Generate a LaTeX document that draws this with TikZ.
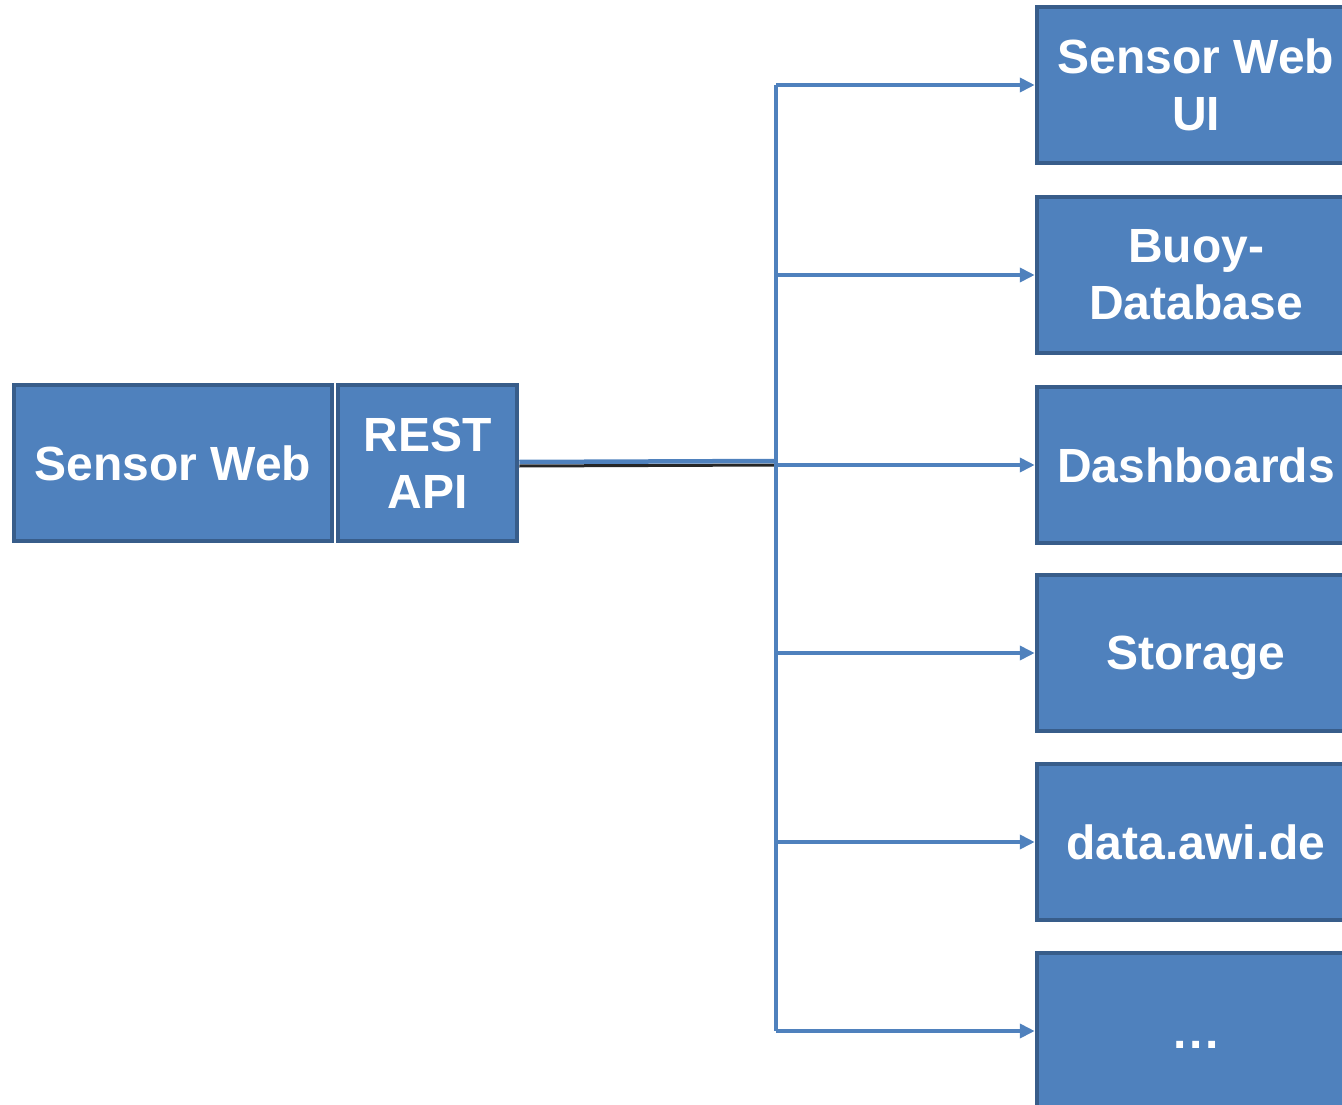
\documentclass[tikz,border=0pt]{standalone}
\usepackage{fontspec}
\setmainfont{Liberation Sans}
\usetikzlibrary{arrows.meta}
\definecolor{boxfill}{HTML}{4F81BD}
\definecolor{boxline}{HTML}{385D8A}
\begin{document}
\begin{tikzpicture}[x=1pt,y=-1pt,
  box/.style={draw=boxline,fill=boxfill,line width=4.5pt,text=white,align=center,
    font=\fontsize{48}{57}\selectfont\bfseries,inner sep=0pt,
    minimum height=156pt},
  rbox/.style={box,minimum width=318pt},
  conn/.style={draw=boxfill,line width=4.5pt},
  arr/.style={conn,-{Triangle[length=15pt,width=14pt]}}]
\useasboundingbox (0,0) rectangle (1342,1105);
\clip (0,0) rectangle (1342,1105);
\node[box,minimum width=318pt] (sw) at (173,463) {Sensor Web};
\node[box,minimum width=179pt] (rest) at (427.5,463) {REST\\API};
\node[rbox] (ui) at (1196,85) {Sensor Web\\UI};
\node[rbox] (buoy) at (1196,275) {Buoy-\\Database};
\node[rbox] (dash) at (1196,465) {Dashboards};
\node[rbox] (stor) at (1196,653) {\raisebox{-5pt}[\height][\depth]{Storage}};
\node[rbox] (awi) at (1196,842) {data.awi.de};
\node[rbox] (more) at (1196,1031) {\raisebox{-14pt}[\height][\depth]{.\kern3pt.\kern3pt.}};
\coordinate (top) at (776,85);
\coordinate (bot) at (776,1031);
\coordinate (mid) at (776,462);
% shadow of main line
\draw[line width=3pt,black!85] ([yshift=-3pt]rest.east) -- ([yshift=-3pt]mid);
\draw[conn] ([yshift=1pt]rest.east) -- ([yshift=1pt]mid);
\draw[conn] (top) -- (bot);
\foreach \n in {ui,buoy,dash,stor,awi,more}
  \draw[arr] (top |- \n.west) -- (\n.west);
\end{tikzpicture}
\end{document}
